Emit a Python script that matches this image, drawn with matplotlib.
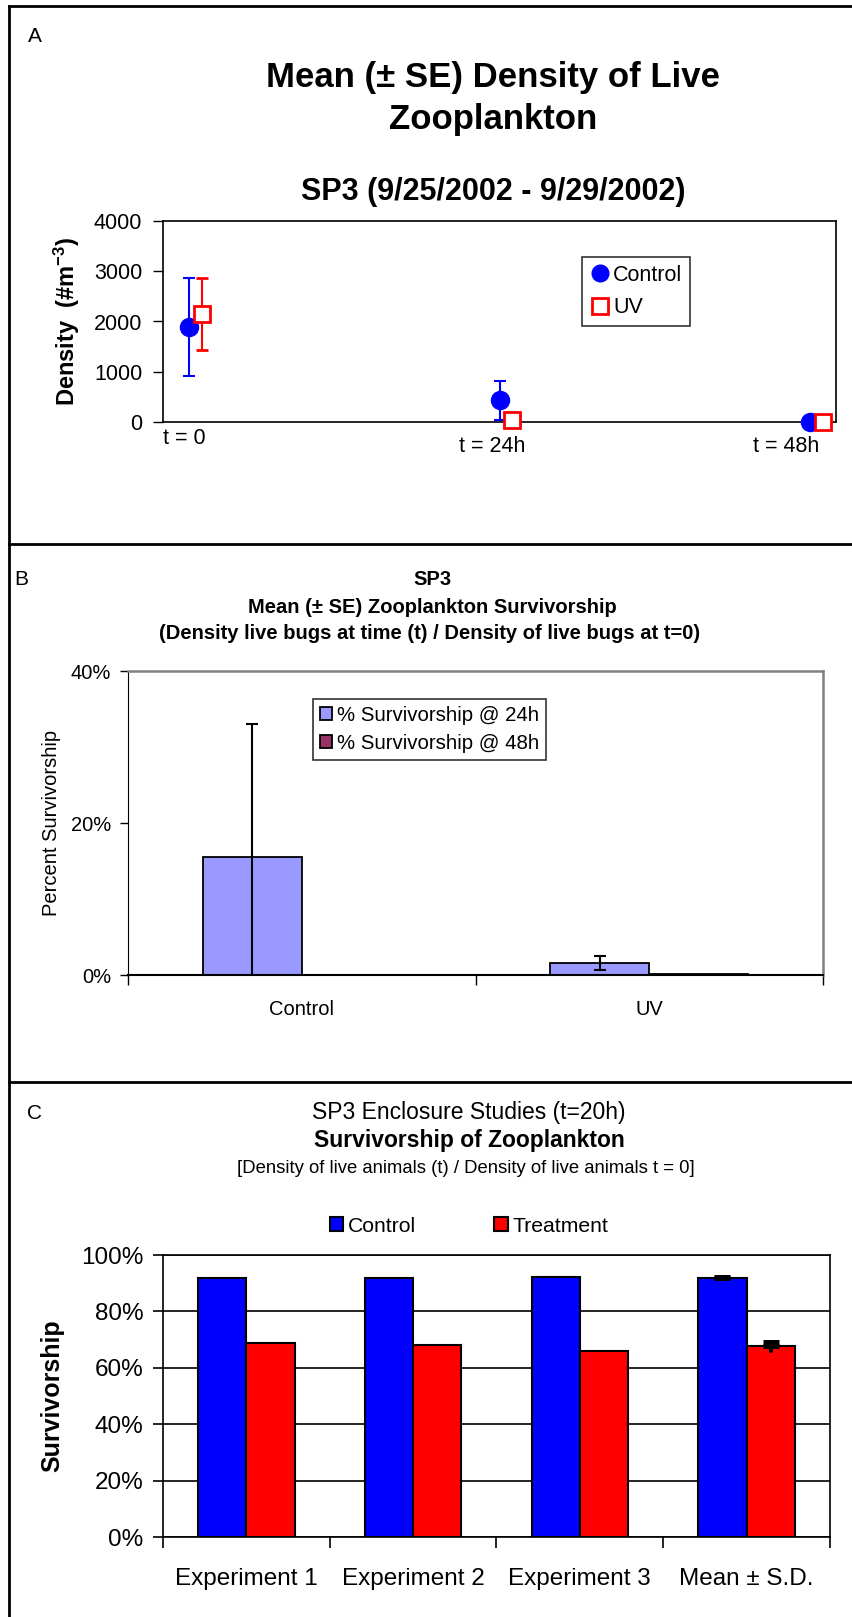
import matplotlib
matplotlib.use("Agg")
import matplotlib.pyplot as plt
from matplotlib.lines import Line2D
from matplotlib.ticker import FuncFormatter

plt.rcParams['font.family'] = ['Liberation Sans', 'DejaVu Sans']
plt.rcParams['mathtext.fontset'] = 'custom'
plt.rcParams['mathtext.rm'] = 'Liberation Sans'
plt.rcParams['mathtext.bf'] = 'Liberation Sans:bold'
plt.rcParams['mathtext.default'] = 'bf'

# ---------------- data ----------------
# Panel A: density of live zooplankton
time_labels = ["t = 0", "t = 24h", "t = 48h"]
time_hours = [0, 24, 48]
ctrl_density = [1890, 430, 0]
ctrl_density_se = [977, 390, 0]
uv_density = [2150, 30, 0]
uv_density_se = [717, 20, 0]

# Panel B: survivorship
groups_b = ["Control", "UV"]
surv_24h = [15.5, 1.6]
surv_24h_se = [17.5, 0.9]
surv_48h = [0.0, 0.1]

# Panel C: enclosure studies
exp_labels = ["Experiment 1", "Experiment 2", "Experiment 3", "Mean \u00b1 S.D."]
ctrl_surv = [92.0, 91.7, 92.3, 92.0]
ctrl_sd = [0, 0, 0, 0.3]
treat_surv = [68.9, 68.0, 65.9, 67.6]
treat_sd = [0, 0, 0, 1.5]

# ---------------- figure ----------------
W, H = 853, 1617
fig = plt.figure(figsize=(W / 100, H / 100), dpi=100)


def add_ax(l, t, r, b):
    return fig.add_axes([l / W, 1 - b / H, (r - l) / W, (b - t) / H])


def ftext(x, y, s, **kw):
    fig.text(x / W, 1 - y / H, s, **kw)


# panel borders
for (x0, y0, x1, y1) in [(9, 6.5, W, 6.5), (9, 6.5, 9, H), (9, 544, W, 544), (9, 1082, W, 1082)]:
    fig.add_artist(Line2D([x0 / W, x1 / W], [1 - y0 / H, 1 - y1 / H], color='black', lw=2,
                          transform=fig.transFigure))

# ================= Panel A =================
axA = add_ax(163, 221, 836, 422)
uv_offset = 1
axA.errorbar(time_hours, ctrl_density, yerr=ctrl_density_se, fmt='o', color='#0000FF',
             markersize=13, capsize=4.3, elinewidth=1.5, capthick=1.5, clip_on=False, zorder=3)
axA.errorbar([t + uv_offset for t in time_hours], uv_density, yerr=uv_density_se, fmt='s',
             color='#FF0000', mfc='white', mec='#FF0000', mew=2, markersize=12,
             capsize=4.3, elinewidth=1.5, capthick=1.5, clip_on=False, zorder=4)
axA.set_xlim(-2, 50)
axA.set_ylim(0, 4000)
axA.set_yticks([0, 1000, 2000, 3000, 4000])
axA.set_xticks([])
axA.tick_params(axis='y', direction='out', length=7, width=1, labelsize=15.5, pad=8)
for sp in axA.spines.values():
    sp.set_color('black')
    sp.set_linewidth(1.2)
axA.set_ylabel('Density  (#m$^{-3}$)', fontsize=17, fontweight='bold')
axA.yaxis.set_label_coords(-(163 - 82) / (836 - 163), 0.5)
label_px = [(184, 438), (492, 446), (786, 446)]
for lab, (px, py) in zip(time_labels, label_px):
    ftext(px, py, lab, fontsize=15.5, ha='center', va='center')

hA = [Line2D([], [], marker='o', ls='none', color='#0000FF', markersize=12),
      Line2D([], [], marker='s', ls='none', color='#FF0000', mfc='white', mew=2, markersize=11)]
legA = axA.legend(hA, ['Control', 'UV'], loc='upper left',
                  bbox_to_anchor=(582 / W, 1 - 257 / H), bbox_transform=fig.transFigure,
                  fontsize=15.5, frameon=True, fancybox=False, edgecolor='black',
                  handletextpad=0.1, handlelength=1.0, borderpad=0.35, labelspacing=0.55,
                  borderaxespad=0)
legA.get_frame().set_linewidth(1.2)

ftext(35, 37, 'A', fontsize=15, ha='center', va='center')
ftext(493, 77, 'Mean (\u00b1 SE) Density of Live', fontsize=25, fontweight='bold', ha='center', va='center')
ftext(493, 119, 'Zooplankton', fontsize=25, fontweight='bold', ha='center', va='center')
ftext(493, 192, 'SP3 (9/25/2002 - 9/29/2002)', fontsize=22, fontweight='bold', ha='center', va='center')

# ================= Panel B =================
axB = add_ax(128, 671, 823, 975)
wB = 0.285
xb = list(range(len(groups_b)))
axB.bar([x - wB / 2 for x in xb], surv_24h, width=wB, color='#9999FF', edgecolor='black',
        linewidth=1.3, zorder=2, label='% Survivorship @ 24h')
axB.bar([x + wB / 2 for x in xb], surv_48h, width=wB, color='#993366', edgecolor='black',
        linewidth=1.3, zorder=2, label='% Survivorship @ 48h')
axB.errorbar([x - wB / 2 for x in xb], surv_24h, yerr=surv_24h_se, fmt='none', ecolor='black',
             elinewidth=1.5, capsize=4.3, capthick=1.5, zorder=3)
axB.set_xlim(-0.5, 1.5)
axB.set_ylim(0, 40)
axB.set_yticks([0, 20, 40])
axB.yaxis.set_major_formatter(FuncFormatter(lambda v, p: f"{v:.0f}%"))
axB.set_xticks([-0.5, 0.5, 1.5])
axB.set_xticklabels([])
axB.set_xticks(xb, minor=True)
axB.set_xticklabels(groups_b, minor=True)
axB.tick_params(axis='x', which='major', direction='out', length=7, width=1)
axB.tick_params(axis='x', which='minor', length=0, labelsize=14.5, pad=18)
axB.tick_params(axis='y', direction='out', length=6, width=1, labelsize=14.5, pad=6)
axB.spines['left'].set_color('black')
axB.spines['bottom'].set_color('black')
axB.spines['bottom'].set_linewidth(1.5)
axB.spines['top'].set_color('#808080')
axB.spines['right'].set_color('#808080')
axB.spines['top'].set_linewidth(1.8)
axB.spines['right'].set_linewidth(1.8)
axB.set_ylabel('Percent Survivorship', fontsize=14.5)
axB.yaxis.set_label_coords(-(128 - 61) / (823 - 128), 0.5)
legB = axB.legend(loc='upper left', bbox_to_anchor=(313 / W, 1 - 699 / H),
                  bbox_transform=fig.transFigure, fontsize=14.7, frameon=True, fancybox=False,
                  edgecolor='black', handlelength=0.6, handleheight=0.6, handletextpad=0.25,
                  borderpad=0.33, labelspacing=0.45, borderaxespad=0)
legB.get_frame().set_linewidth(1.2)

ftext(21, 579, 'B', fontsize=15, ha='center', va='center')
ftext(432, 579, 'SP3', fontsize=14.5, fontweight='bold', ha='center', va='center')
ftext(432, 607, 'Mean (\u00b1 SE) Zooplankton Survivorship', fontsize=14.5, fontweight='bold',
      ha='center', va='center')
ftext(430, 633, '(Density live bugs at time (t) / Density of live bugs at t=0)', fontsize=14.5,
      fontweight='bold', ha='center', va='center')

# ================= Panel C =================
axC = add_ax(163, 1255, 830, 1537)
wC = 0.29
xc = list(range(len(exp_labels)))
axC.bar([x - wC / 2 for x in xc], ctrl_surv, width=wC, color='#0000FF', edgecolor='black',
        linewidth=1.5, zorder=2, label='Control')
axC.bar([x + wC / 2 for x in xc], treat_surv, width=wC, color='#FF0000', edgecolor='black',
        linewidth=1.5, zorder=2, label='Treatment')
for i in xc:
    for xpos, val, err in [(i - wC / 2, ctrl_surv[i], ctrl_sd[i]), (i + wC / 2, treat_surv[i], treat_sd[i])]:
        if err > 0:
            eb = axC.errorbar(xpos, val, yerr=err, fmt='none', ecolor='black',
                              elinewidth=3, capsize=0, zorder=3)
            eb[2][0].set_capstyle('round')
            axC.errorbar(xpos, val, yerr=[[0], [err]], fmt='none', ecolor='black',
                         elinewidth=3, capsize=6, capthick=3.6, zorder=3)
axC.set_xlim(-0.5, 3.5)
axC.set_ylim(0, 100)
axC.set_yticks([0, 20, 40, 60, 80, 100])
axC.yaxis.set_major_formatter(FuncFormatter(lambda v, p: f"{v:.0f}%"))
axC.yaxis.grid(True, color='black', linewidth=1.2, zorder=0)
axC.set_axisbelow(True)
axC.set_xticks([-0.5, 0.5, 1.5, 2.5, 3.5])
axC.set_xticklabels([])
axC.set_xticks(xc, minor=True)
axC.set_xticklabels(exp_labels, minor=True)
axC.tick_params(axis='x', which='major', direction='out', length=8, width=1.2)
axC.tick_params(axis='x', which='minor', length=0, labelsize=17.5, pad=22)
axC.tick_params(axis='y', direction='out', length=7, width=1.2, labelsize=17.5, pad=7)
for sp in axC.spines.values():
    sp.set_color('black')
    sp.set_linewidth(1.2)
axC.set_ylabel('Survivorship', fontsize=18, fontweight='bold')
axC.yaxis.set_label_coords(-(163 - 64) / (830 - 163), 0.5)
legC = axC.legend(loc='center', bbox_to_anchor=(469 / W, 1 - 1226 / H),
                  bbox_transform=fig.transFigure, ncol=2, fontsize=15.2, frameon=False,
                  handlelength=0.65, handleheight=0.65, handletextpad=0.22, columnspacing=3.7,
                  borderaxespad=0, borderpad=0)

ftext(35, 1113, 'C', fontsize=15, ha='center', va='center')
ftext(469, 1112, 'SP3 Enclosure Studies (t=20h)', fontsize=16.5, ha='center', va='center')
ftext(469, 1141, 'Survivorship of Zooplankton', fontsize=16.5, fontweight='bold', ha='center', va='center')
ftext(466, 1168, '[Density of live animals (t) / Density of live animals t = 0]', fontsize=13.3,
      ha='center', va='center')

fig.savefig('out.png', dpi=100)
